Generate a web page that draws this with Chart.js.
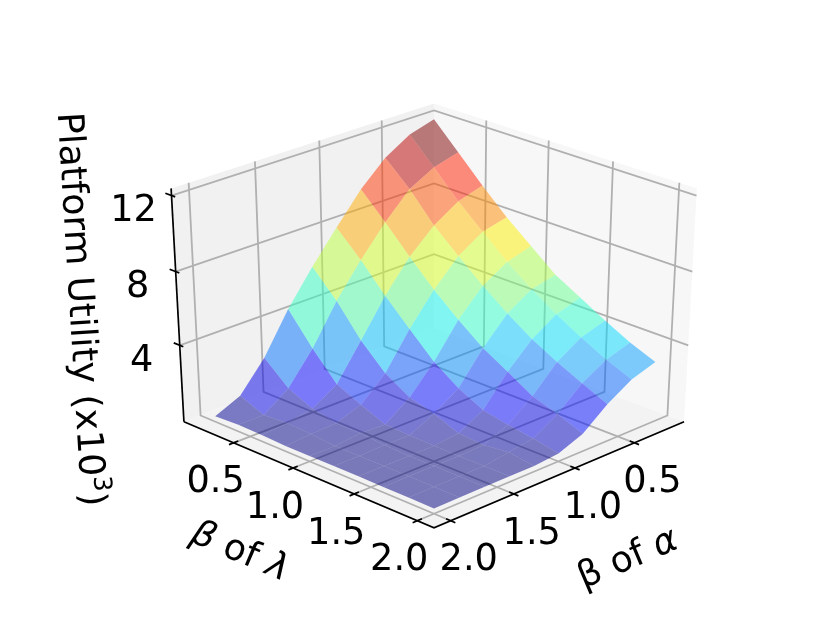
<!DOCTYPE html>
<html>
<head>
<meta charset="utf-8">
<title>Platform Utility</title>
<script src="https://cdn.jsdelivr.net/npm/chart.js@4"></script>
<style>
    html, body { margin: 0; padding: 0; background: #fff; }
    canvas { display: block; }
</style>
</head>
<body>
<canvas id="surfaceChart" width="830" height="623"></canvas>
<script>
// grid of the surface
const alphaBeta = [0.2, 0.4, 0.6, 0.8, 1.0, 1.2, 1.4, 1.6, 1.8, 2.0];
const lambdaBeta = [0.2, 0.4, 0.6, 0.8, 1.0, 1.2, 1.4, 1.6, 1.8, 2.0];

// platform utility (x10^3), one row per lambda, alpha left to right
const lambda02 = [12.07, 11.68, 10.87, 9.61, 8.00, 6.32, 4.48, 2.27, 0.65, 0.02];
const lambda04 = [10.73, 10.35, 9.63, 8.28, 6.69, 4.93, 2.78, 1.07, 0.09, 0.10];
const lambda06 = [9.37, 8.96, 8.11, 6.87, 5.21, 3.23, 1.29, 0.46, 0.18, 0.07];
const lambda08 = [8.09, 7.76, 6.91, 5.55, 3.87, 1.92, 0.67, 0.18, 0.12, 0.01];
const lambda10 = [6.98, 6.58, 5.76, 4.38, 2.56, 1.08, 0.11, 0.17, 0.01, 0.02];
const lambda12 = [5.88, 5.57, 4.73, 3.33, 1.61, 0.72, 0.05, 0.06, 0.02, 0.02];
const lambda14 = [5.11, 4.69, 3.82, 2.53, 0.92, 0.17, 0.03, 0.02, 0.03, 0.02];
const lambda16 = [4.34, 3.91, 3.07, 1.70, 0.64, 0.06, 0.02, 0.02, 0.02, 0.01];
const lambda18 = [3.64, 3.20, 2.42, 1.25, 0.43, 0.23, 0.03, 0.02, 0.02, 0.01];
const lambda20 = [3.07, 2.63, 1.79, 0.70, 0.15, 0.02, 0.02, 0.02, 0.01, 0.00];
const utility = [lambda02, lambda04, lambda06, lambda08, lambda10, lambda12, lambda14, lambda16, lambda18, lambda20];

const betaTicks = [0.5, 1.0, 1.5, 2.0];
const betaTickLabels = ['0.5', '1.0', '1.5', '2.0'];
const utilityTicks = [4, 8, 12];
const utilityTickLabels = ['4', '8', '12'];

// limits of the box
const BETA_MIN = 0.07, BETA_MAX = 2.13;
const Z_MIN = -0.29, Z_MAX = 12.37;

// camera: elevation 30, azimuth 45, distance 20 box half widths
const CAM_DIST = 20;
const VIEW_X = 3625, VIEW_Y = 2693;
const CENTER_X = 434, CENTER_Y = 308;
const FONT = '"DejaVu Sans"';

function boxBeta(v) { return -1 + 2 * (v - BETA_MIN) / (BETA_MAX - BETA_MIN); }
function boxZ(v) { return -1 + 2 * (v - Z_MIN) / (Z_MAX - Z_MIN); }

function depthOf(p) {
    return CAM_DIST - 0.6124 * (p[0] + p[1]) - 0.5 * p[2];
}

// box coordinates to the x/y values of the chart scales
function project(p) {
    const d = depthOf(p);
    const xv = 0.7071 * (p[1] - p[0]);
    const yv = -0.3536 * (p[0] + p[1]) + 0.866 * p[2];
    return { x: CENTER_X + VIEW_X * xv / d, y: CENTER_Y - VIEW_Y * yv / d };
}

function lerp(stops, t) {
    for (let i = 1; i < stops.length; i++) {
        if (t <= stops[i][0]) {
            const a = stops[i - 1], b = stops[i];
            return a[1] + (b[1] - a[1]) * (t - a[0]) / (b[0] - a[0]);
        }
    }
    return stops[stops.length - 1][1];
}

function jet(t) {
    const r = lerp([[0, 0], [0.35, 0], [0.66, 1], [0.89, 1], [1, 0.5]], t);
    const g = lerp([[0, 0], [0.125, 0], [0.375, 1], [0.64, 1], [0.91, 0], [1, 0]], t);
    const b = lerp([[0, 0.5], [0.11, 1], [0.34, 1], [0.65, 0], [1, 0]], t);
    return `rgba(${Math.round(r * 255)}, ${Math.round(g * 255)}, ${Math.round(b * 255)}, 0.5)`;
}

function polygon(points, color) {
    return {
        data: points.map(project),
        showLine: true,
        fill: 'shape',
        backgroundColor: color,
        borderWidth: 0,
        pointRadius: 0
    };
}

function polyline(points, color, width) {
    return {
        data: points.map(project),
        showLine: true,
        fill: false,
        borderColor: color,
        borderWidth: width,
        borderCapStyle: 'butt',
        pointRadius: 0
    };
}

const layers = [];

// panes
layers.push(polygon([[1, -1, -1], [1, -1, 1], [-1, -1, 1], [-1, -1, -1]], '#f1f1f1'));
layers.push(polygon([[-1, -1, -1], [-1, -1, 1], [-1, 1, 1], [-1, 1, -1]], '#f7f7f7'));
layers.push(polygon([[1, -1, -1], [-1, -1, -1], [-1, 1, -1], [1, 1, -1]], '#f3f3f3'));

// grid lines on panes and floor
const GRID = '#b0b0b0';
betaTicks.forEach(t => {
    const b = boxBeta(t);
    layers.push(polyline([[b, -1, 1], [b, -1, -1], [b, 1, -1]], GRID, 1.8));
    layers.push(polyline([[-1, b, 1], [-1, b, -1], [1, b, -1]], GRID, 1.8));
});
utilityTicks.forEach(t => {
    const w = boxZ(t);
    layers.push(polyline([[1, -1, w], [-1, -1, w], [-1, 1, w]], GRID, 1.8));
});

// surface facets, far ones first, coloured by their mean height
const facets = [];
for (let l = 0; l < lambdaBeta.length - 1; l++) {
    for (let a = 0; a < alphaBeta.length - 1; a++) {
        const corners = [[a, l], [a + 1, l], [a + 1, l + 1], [a, l + 1]];
        const pts = corners.map(c => [boxBeta(alphaBeta[c[0]]), boxBeta(lambdaBeta[c[1]]), boxZ(utility[c[1]][c[0]])]);
        const avg = corners.reduce((s, c) => s + utility[c[1]][c[0]], 0) / 4;
        const depth = pts.reduce((s, p) => s + depthOf(p), 0) / 4;
        facets.push({ pts, depth, avg });
    }
}
const avgMin = Math.min(...facets.map(f => f.avg));
const avgMax = Math.max(...facets.map(f => f.avg));
facets.sort((f, g) => g.depth - f.depth);
facets.forEach(f => layers.push(polygon(f.pts, jet((f.avg - avgMin) / (avgMax - avgMin)))));

// axis lines and ticks
layers.push(polyline([[1, -1, -1], [1, 1, -1], [-1, 1, -1]], '#000', 1.7));
layers.push(polyline([[1, -1, -1], [1, -1, 1]], '#000', 1.7));
betaTicks.forEach(t => {
    const b = boxBeta(t);
    layers.push(polyline([[1.035, b, -1], [0.965, b, -1]], '#000', 1.7));
    layers.push(polyline([[b, 1.035, -1], [b, 0.965, -1]], '#000', 1.7));
});
utilityTicks.forEach(t => {
    const w = boxZ(t);
    layers.push(polyline([[1, -1.05, w], [1, -0.97, w]], '#000', 1.7));
});

// chart.js paints lower order on top, keep the push order
layers.forEach((d, i) => { d.order = layers.length - i; });

function drawRuns(ctx, runs, cx, cy, angle) {
    ctx.save();
    ctx.translate(cx, cy);
    ctx.rotate(angle * Math.PI / 180);
    ctx.textBaseline = 'alphabetic';
    ctx.textAlign = 'left';
    ctx.fillStyle = '#000';
    let total = 0;
    runs.forEach(r => {
        ctx.font = r.font;
        total += ctx.measureText(r.text).width;
    });
    let x = -total / 2;
    runs.forEach(r => {
        ctx.font = r.font;
        ctx.fillText(r.text, x, r.rise || 0);
        x += ctx.measureText(r.text).width;
    });
    ctx.restore();
}

const axisText = {
    id: 'axisText',
    afterDatasetsDraw(chart) {
        const ctx = chart.ctx;
        const sx = chart.scales.x, sy = chart.scales.y;
        const at = p => {
            const q = project(p);
            return [sx.getPixelForValue(q.x), sy.getPixelForValue(q.y)];
        };
        const tickFont = `36.7px ${FONT}`;
        ctx.save();
        ctx.font = tickFont;
        ctx.fillStyle = '#000';
        ctx.textAlign = 'center';
        ctx.textBaseline = 'middle';
        betaTicks.forEach((t, i) => {
            const b = boxBeta(t);
            const l = at([1, b, -1]);
            ctx.fillText(betaTickLabels[i], l[0] - 18, l[1] + 40);
            const r = at([b, 1, -1]);
            ctx.fillText(betaTickLabels[i], r[0] + 18, r[1] + 40);
        });
        utilityTicks.forEach((t, i) => {
            const p = at([1, -1, boxZ(t)]);
            ctx.fillText(utilityTickLabels[i], p[0] - 38, p[1] + 16);
        });
        ctx.restore();

        const regular = `36.3px ${FONT}`;
        const italic = `italic 36.3px ${FONT}`;
        const small = `25px ${FONT}`;
        const mid = at([1, -1, 0]);
        drawRuns(ctx, [
            { text: 'Platform Utility (x10', font: regular },
            { text: '3', font: small, rise: -14 },
            { text: ')', font: regular }
        ], mid[0] - 108, mid[1] + 2, 86.5);
        const left = at([1, 0, -1]);
        drawRuns(ctx, [
            { text: 'β', font: italic },
            { text: ' of ', font: regular },
            { text: 'λ', font: italic }
        ], left[0] - 69, left[1] + 88, 23);
        const right = at([0, 1, -1]);
        drawRuns(ctx, [
            { text: 'β of ', font: regular },
            { text: 'α', font: italic }
        ], right[0] + 69, right[1] + 95, -23);
    }
};

new Chart(document.getElementById('surfaceChart'), {
    type: 'scatter',
    data: { datasets: layers },
    options: {
        responsive: false,
        animation: false,
        layout: { padding: 0 },
        plugins: { legend: { display: false }, tooltip: { enabled: false } },
        scales: {
            x: { type: 'linear', display: false, min: 0, max: 830 },
            y: { type: 'linear', display: false, min: 0, max: 623, reverse: true }
        }
    },
    plugins: [axisText]
});
</script>
</body>
</html>
